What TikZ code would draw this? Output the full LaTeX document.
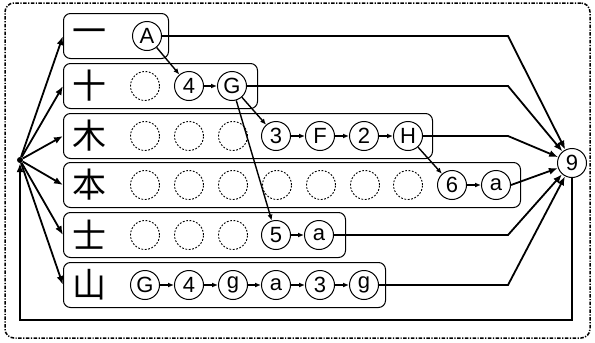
\documentclass[tikz,border=0pt]{standalone}
\usepackage{fontspec}
\setsansfont{Liberation Sans}
\newfontfamily\cjk{Noto Sans CJK SC}
\usetikzlibrary{arrows.meta}
\begin{document}
\begin{tikzpicture}[x=1pt,y=-1pt,
  v/.style={circle, draw, line width=1pt, minimum size=29pt, inner sep=0pt, font=\sffamily\fontsize{22}{22}\selectfont},
  ev/.style={circle, draw, dash pattern=on 1.8pt off 1.6pt, line width=0.9pt, minimum size=29pt, inner sep=0pt},
  rowbox/.style={draw, rounded corners=7pt, line width=1pt, minimum height=45pt, anchor=west, inner sep=0pt},
  kj/.style={font=\cjk\fontsize{34}{34}\selectfont, inner sep=0pt},
  ed/.style={-{Latex[length=6pt,width=5pt]}, line width=1.4pt},
  big/.style={-{Latex[length=9pt,width=7pt]}, line width=1.8pt}]
\useasboundingbox (0,0) rectangle (595,343);
\node[draw, dash pattern=on 3.5pt off 1.5pt on 1.2pt off 1.5pt, line width=1.5pt, rounded corners=9pt, minimum width=585pt, minimum height=335pt, inner sep=0pt] (frame) at (297.5,170.5) {};
% rows
\node[rowbox, minimum width=105pt] (r1) at (63,36) {};
\node[rowbox, minimum width=194pt] (r2) at (63,86) {};
\node[rowbox, minimum width=369pt] (r3) at (63,136) {};
\node[rowbox, minimum width=457pt] (r4) at (63,185) {};
\node[rowbox, minimum width=282pt] (r5) at (63,235) {};
\node[rowbox, minimum width=322pt] (r6) at (63,285) {};
\node[kj] (k1) at (89,36) {一};
\node[kj] (k2) at (89,86) {十};
\node[kj] (k3) at (89,136) {木};
\node[kj] (k4) at (89,185) {本};
\node[kj] (k5) at (89,235) {士};
\node[kj] (k6) at (89,285) {山};
% row 1
\node[v] (A) at (147,36) {A};
% row 2
\node[ev] (e21) at (145,86) {};
\node[v] (n4) at (189,86) {4};
\node[v] (G) at (232,86) {G};
% row 3
\node[ev] (e31) at (145,136) {};
\node[ev] (e32) at (189,136) {};
\node[ev] (e33) at (233,136) {};
\node[v] (n3) at (276,136) {3};
\node[v] (F) at (320,136) {F};
\node[v] (n2) at (364,136) {2};
\node[v] (H) at (408,136) {H};
% row 4
\node[ev] (e41) at (145,185) {};
\node[ev] (e42) at (189,185) {};
\node[ev] (e43) at (233,185) {};
\node[ev] (e44) at (277,185) {};
\node[ev] (e45) at (321,185) {};
\node[ev] (e46) at (365,185) {};
\node[ev] (e47) at (408,185) {};
\node[v] (n6) at (452,185) {6};
\node[v] (a4) at (496,185) {a};
% row 5
\node[ev] (e51) at (145,235) {};
\node[ev] (e52) at (189,235) {};
\node[ev] (e53) at (233,235) {};
\node[v] (n5) at (276,235) {5};
\node[v] (a5) at (319,235) {a};
% row 6
\node[v] (G6) at (145,285) {G};
\node[v] (f6) at (189,285) {4};
\node[v] (g6) at (233,285) {g};
\node[v] (a6) at (276,285) {a};
\node[v] (t6) at (320,285) {3};
\node[v] (h6) at (364,285) {g};
% sink and source
\node[v] (n9) at (572,163) {9};
\node[circle, fill, inner sep=0pt, minimum size=6pt] (s) at (20,160) {};
\coordinate (bx) at (508,0);
\coordinate (by) at (0,320);
% edges
\draw[ed] (A) -- (n4);
\draw[ed] (n4) -- (G);
\draw[ed] (G) -- (n3);
\draw[ed] (G) -- (n5);
\draw[ed] (n3) -- (F);
\draw[ed] (F) -- (n2);
\draw[ed] (n2) -- (H);
\draw[ed] (H) -- (n6);
\draw[ed] (n6) -- (a4);
\draw[ed] (n5) -- (a5);
\draw[ed] (G6) -- (f6);
\draw[ed] (f6) -- (g6);
\draw[ed] (g6) -- (a6);
\draw[ed] (a6) -- (t6);
\draw[ed] (t6) -- (h6);
% to sink
\draw[big] (A.east) -- (A.east -| bx) -- (n9);
\draw[big] (G.east) -- (G.east -| bx) -- (n9);
\draw[big] (H.east) -- (H.east -| bx) -- (n9);
\draw[big] (a4.east) -- (n9);
\draw[big] (a5.east) -- (a5.east -| bx) -- (n9);
\draw[big] (h6.east) -- (h6.east -| bx) -- (n9);
% from source
\foreach \r in {r1,r2,r3,r4,r5,r6} \draw[big] (s) -- (\r.west);
\draw[big] (n9.south) -- (n9.south |- by) -- (s |- by) -- (s);
\end{tikzpicture}
\end{document}
